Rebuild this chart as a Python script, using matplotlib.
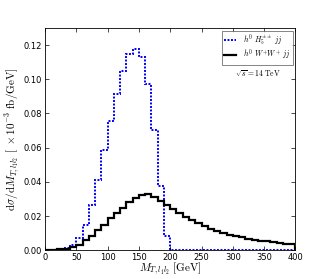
import numpy as np
import matplotlib
matplotlib.use('Agg')
import matplotlib.pyplot as plt

plt.rcParams['mathtext.fontset'] = 'cm'
plt.rcParams['xtick.direction'] = 'in'
plt.rcParams['ytick.direction'] = 'in'

# bin edges (GeV), 10 GeV bins from 0 to 400
edges = np.arange(0, 410, 10)

# h0 H5++ jj (blue dotted)
h5_vals = [0.0, 0.0003, 0.0008, 0.0015, 0.003, 0.007, 0.0147, 0.0267, 0.041, 0.0584,
           0.0753, 0.0914, 0.105, 0.115, 0.1176, 0.113, 0.0973, 0.0706, 0.0376, 0.0082,
           0, 0, 0, 0, 0, 0, 0, 0, 0, 0,
           0, 0, 0, 0, 0, 0, 0, 0, 0, 0]

# h0 W+W+ jj (black solid)
ww_vals = [0.0, 0.0002, 0.0005, 0.001, 0.002, 0.0033, 0.0059, 0.0084, 0.0118, 0.015,
           0.0186, 0.022, 0.025, 0.028, 0.0304, 0.0324, 0.0327, 0.031, 0.029, 0.0265,
           0.024, 0.0216, 0.0196, 0.0176, 0.0157, 0.0141, 0.0125, 0.0114, 0.0100, 0.0091,
           0.0082, 0.0075, 0.0068, 0.0062, 0.0057, 0.0052, 0.0047, 0.0043, 0.0039, 0.0036]

fig = plt.figure(figsize=(3.1, 2.79), dpi=100)
ax = fig.add_axes([0.145, 0.103, 0.808, 0.797])

ax.stairs(h5_vals, edges, color='blue', linestyle=(0, (1, 0.8)), linewidth=1.4,
          label=r'$h^0\ H_5^{\pm\pm}\ jj$')
ax.stairs(ww_vals, edges, color='black', linestyle='-', linewidth=1.6,
          label=r'$h^0\ W^{+}W^{+}\ jj$')

ax.set_xlim(0, 400)
ax.set_ylim(0, 0.13)
ax.set_xticks(np.arange(0, 401, 50))
ax.set_yticks(np.arange(0, 0.121, 0.02))
ax.yaxis.set_major_formatter(matplotlib.ticker.FormatStrFormatter('%.2f'))
ax.tick_params(labelsize=6, top=True, right=True, length=3, width=0.5, pad=2)
for s in ax.spines.values():
    s.set_linewidth(0.6)

ax.set_xlabel(r'$M_{T,l_1 l_2}\ [\mathrm{GeV}]$', fontsize=8, labelpad=-1)
ax.set_ylabel(r'$\mathrm{d}\sigma/\mathrm{d}M_{T,l_1 l_2}\ [\ \times 10^{-3}\ \mathrm{fb/GeV}]$',
              fontsize=8, labelpad=2)

leg = ax.legend(loc='upper right', fontsize=5.5, frameon=True, fancybox=False,
                handlelength=1.6, handletextpad=0.9, borderpad=0.3, labelspacing=0.1,
                borderaxespad=0.35)
leg.get_frame().set_edgecolor('0.3')
leg.get_frame().set_linewidth(0.6)

ax.text(0.85, 0.795, r'$\sqrt{s}=14\ \mathrm{TeV}$', transform=ax.transAxes,
        fontsize=5.5, ha='center', va='center')

fig.savefig('out.png', dpi=100)
